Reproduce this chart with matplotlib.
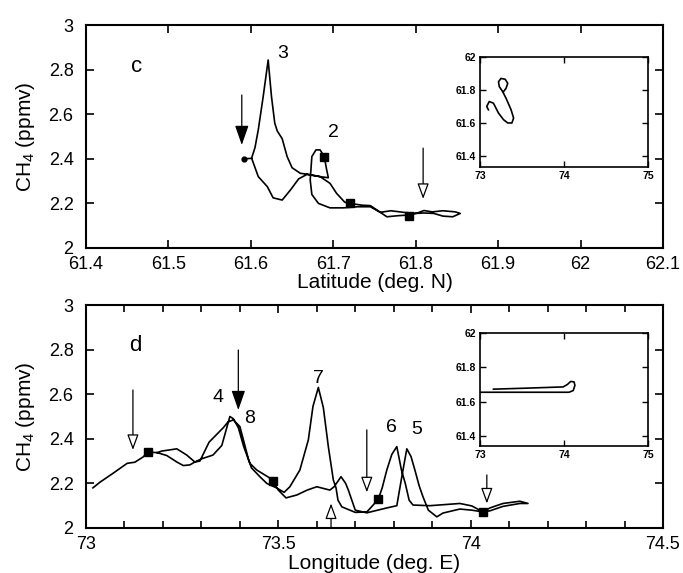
"""
CH4 along the flight track: latitude section (c) and longitude section (d),
each with a small lon/lat map of the track.
"""
import numpy as np
import matplotlib.pyplot as plt
from matplotlib.ticker import MultipleLocator, FormatStrFormatter

plt.rcParams['font.family'] = ['Liberation Sans', 'DejaVu Sans']
plt.rcParams['mathtext.fontset'] = 'custom'
plt.rcParams['mathtext.rm'] = 'Liberation Sans'

# ---- panel c: CH4 against latitude (track order)
lat_c = [61.592, 61.601, 61.609, 61.620, 61.627, 61.638, 61.648, 61.658, 61.668,
         61.684, 61.696, 61.704, 61.714, 61.720, 61.735, 61.745, 61.757, 61.765,
         61.779, 61.792, 61.802, 61.810, 61.820, 61.833, 61.848, 61.854, 61.845,
         61.833, 61.822, 61.810, 61.800, 61.785, 61.770, 61.757, 61.745, 61.730,
         61.712, 61.696, 61.682, 61.674, 61.672, 61.674, 61.679, 61.684, 61.689,
         61.692, 61.694, 61.684, 61.670, 61.660, 61.650, 61.644, 61.638, 61.632,
         61.629, 61.625, 61.621, 61.615, 61.609, 61.605, 61.601]
ch4_c = [2.400, 2.402, 2.320, 2.275, 2.225, 2.215, 2.260, 2.310, 2.330,
         2.320, 2.290, 2.245, 2.205, 2.200, 2.192, 2.190, 2.160, 2.140,
         2.145, 2.148, 2.157, 2.168, 2.162, 2.167, 2.162, 2.155, 2.140,
         2.143, 2.155, 2.157, 2.155, 2.160, 2.167, 2.160, 2.185, 2.185,
         2.180, 2.180, 2.200, 2.240, 2.305, 2.410, 2.440, 2.440, 2.410,
         2.350, 2.315, 2.320, 2.330, 2.335, 2.360, 2.410, 2.490, 2.525,
         2.560, 2.680, 2.843, 2.680, 2.530, 2.450, 2.404]
sq_lat_c = [61.689, 61.720, 61.792]
sq_ch4_c = [2.410, 2.200, 2.145]
# arrows: position, tail, tip, filled head
arr_x_c = [61.589, 61.809]
arr_tail_c = [2.686, 2.448]
arr_tip_c = [2.462, 2.220]
arr_fill_c = [True, False]
lab_c = ['3', '2']
lab_x_c = [61.638, 61.700]
lab_y_c = [2.874, 2.520]

# track map for c (lon, lat)
map_lon_c = [73.10, 73.08, 73.11, 73.16, 73.22, 73.28, 73.33, 73.38, 73.40, 73.37,
             73.31, 73.27, 73.23, 73.22, 73.25, 73.30, 73.33, 73.31, 73.28]
map_lat_c = [61.68, 61.70, 61.73, 61.72, 61.66, 61.62, 61.60, 61.60, 61.63, 61.68,
             61.75, 61.79, 61.82, 61.85, 61.87, 61.865, 61.84, 61.81, 61.79]

# ---- panel d: CH4 against longitude (track order)
lon_d = [73.018, 73.036, 73.070, 73.107, 73.127, 73.148, 73.161, 73.185, 73.197,
         73.236, 73.262, 73.283, 73.300, 73.330, 73.353, 73.366, 73.374, 73.383,
         73.396, 73.410, 73.426, 73.444, 73.478, 73.485, 73.500, 73.520, 73.548,
         73.575, 73.600, 73.634, 73.645, 73.663, 73.675, 73.682, 73.700, 73.730,
         73.782, 73.808, 73.821, 73.834, 73.845, 73.855, 73.866, 73.876, 73.890,
         73.912, 73.928, 73.972, 74.003, 74.032, 74.050, 74.084, 74.128, 74.149,
         74.128, 74.084, 74.050, 74.032, 74.003, 73.972, 73.894, 73.850, 73.840,
         73.830, 73.820, 73.808, 73.795, 73.782, 73.770, 73.760, 73.745, 73.730,
         73.700, 73.665, 73.655, 73.650, 73.643, 73.630, 73.617, 73.604, 73.590,
         73.578, 73.556, 73.530, 73.515, 73.495, 73.470, 73.452, 73.430, 73.422,
         73.410, 73.400, 73.383, 73.369, 73.357, 73.320, 73.296, 73.283, 73.270,
         73.253, 73.236, 73.210, 73.185]
ch4_d = [2.180, 2.205, 2.245, 2.290, 2.295, 2.318, 2.340, 2.338, 2.345,
         2.355, 2.327, 2.296, 2.310, 2.327, 2.370, 2.450, 2.500, 2.490,
         2.450, 2.365, 2.290, 2.260, 2.224, 2.210, 2.170, 2.135, 2.148,
         2.170, 2.185, 2.170, 2.185, 2.230, 2.200, 2.170, 2.080, 2.068,
         2.090, 2.100, 2.230, 2.355, 2.320, 2.260, 2.190, 2.140, 2.080,
         2.050, 2.067, 2.085, 2.080, 2.072, 2.077, 2.097, 2.110, 2.110,
         2.120, 2.110, 2.090, 2.072, 2.099, 2.110, 2.100, 2.103, 2.125,
         2.200, 2.260, 2.365, 2.330, 2.260, 2.180, 2.130, 2.100, 2.072,
         2.070, 2.095, 2.125, 2.180, 2.215, 2.365, 2.540, 2.630, 2.545,
         2.395, 2.260, 2.185, 2.160, 2.180, 2.200, 2.230, 2.270, 2.310,
         2.390, 2.455, 2.485, 2.475, 2.450, 2.385, 2.300, 2.296, 2.283,
         2.280, 2.296, 2.325, 2.338]
sq_lon_d = [73.161, 73.485, 73.760, 74.032]
sq_ch4_d = [2.340, 2.210, 2.130, 2.070]
arr_x_d = [73.122, 73.396, 73.730, 73.637, 74.042]
arr_tail_d = [2.619, 2.798, 2.440, 2.000, 2.238]
arr_tip_d = [2.350, 2.529, 2.160, 2.110, 2.110]
arr_fill_d = [False, True, False, False, False]
lab_d = ['4', '8', '7', '6', '5']
lab_x_d = [73.343, 73.426, 73.604, 73.795, 73.860]
lab_y_d = [2.583, 2.493, 2.670, 2.449, 2.440]

map_lon_d = [73.16, 73.50, 73.99, 74.04, 74.08, 74.12, 74.13, 74.11, 74.06, 73.50, 73.00]
map_lat_d = [61.673, 61.678, 61.686, 61.700, 61.718, 61.715, 61.695, 61.665, 61.655,
             61.655, 61.655]

W, H = 683, 573


def px_axes(fig, left, top, right, bottom):
    """add axes from pixel edges (origin top-left)"""
    return fig.add_axes([left / W, 1 - bottom / H, (right - left) / W, (bottom - top) / H])


def style_main(ax, xlim, xmajor, xminor=None):
    ax.set_xlim(*xlim)
    ax.set_ylim(2, 3)
    ax.xaxis.set_major_locator(MultipleLocator(xmajor))
    if xminor:
        ax.xaxis.set_minor_locator(MultipleLocator(xminor))
    ax.yaxis.set_major_locator(MultipleLocator(0.2))
    ax.xaxis.set_major_formatter(FormatStrFormatter('%g'))
    ax.yaxis.set_major_formatter(FormatStrFormatter('%g'))
    ax.tick_params(which='both', direction='in', top=True, right=True,
                   labelsize=13, width=1.2)
    ax.tick_params(axis='y', pad=9)
    ax.tick_params(axis='x', pad=6)
    ax.tick_params(which='major', length=6)
    ax.tick_params(which='minor', length=5)
    for s in ax.spines.values():
        s.set_linewidth(1.5)
    ax.set_ylabel('CH$_4$ (ppmv)', fontsize=15, labelpad=8)


def draw_arrows(ax, xs, tails, tips, fills):
    for x, t0, t1, f in zip(xs, tails, tips, fills):
        if f:
            style = '-|>,head_length=1.2,head_width=0.42'
        else:
            style = '-|>,head_length=0.95,head_width=0.35'
        ax.annotate('', xy=(x, t1), xytext=(x, t0),
                    arrowprops=dict(arrowstyle=style, fc='black' if f else 'white',
                                    ec='black', lw=0.9, shrinkA=0, shrinkB=0))


def style_inset(ax):
    ax.set_xlim(73, 75)
    ax.xaxis.set_major_locator(MultipleLocator(1))
    ax.yaxis.set_major_locator(MultipleLocator(0.2))
    ax.xaxis.set_major_formatter(FormatStrFormatter('%g'))
    ax.yaxis.set_major_formatter(FormatStrFormatter('%g'))
    ax.tick_params(direction='in', top=True, right=True, length=4, width=1,
                   labelsize=7.5, pad=3)
    for lab in ax.get_xticklabels() + ax.get_yticklabels():
        lab.set_fontweight('bold')
    for s in ax.spines.values():
        s.set_linewidth(1.2)


fig = plt.figure(figsize=(W / 100, H / 100), dpi=100)

# panel c
ax1 = px_axes(fig, 86, 25, 663, 248)
ax1.plot(lat_c, ch4_c, color='black', lw=1.2)
ax1.plot(lat_c[0], ch4_c[0], 'o', color='black', ms=3.5)
ax1.plot(sq_lat_c, sq_ch4_c, 's', color='black', ms=6)
draw_arrows(ax1, arr_x_c, arr_tail_c, arr_tip_c, arr_fill_c)
for s, x, y in zip(lab_c, lab_x_c, lab_y_c):
    ax1.text(x, y, s, fontsize=14, ha='center', va='center')
ax1.text(61.462, 2.816, 'c', fontsize=16, ha='center', va='center')
style_main(ax1, (61.4, 62.1), 0.1)
ax1.set_xlabel('Latitude (deg. N)', fontsize=15, labelpad=0)

ins1 = px_axes(fig, 480, 57, 648, 167)
ins1.plot(map_lon_c, map_lat_c, color='black', lw=1.2)
ins1.set_ylim(61.333, 62)
style_inset(ins1)

# panel d
ax2 = px_axes(fig, 86, 305, 663, 528)
ax2.plot(lon_d, ch4_d, color='black', lw=1.2)
ax2.plot(sq_lon_d, sq_ch4_d, 's', color='black', ms=6)
draw_arrows(ax2, arr_x_d, arr_tail_d, arr_tip_d, arr_fill_d)
for s, x, y in zip(lab_d, lab_x_d, lab_y_d):
    ax2.text(x, y, s, fontsize=14, ha='center', va='center')
ax2.text(73.127, 2.82, 'd', fontsize=16, ha='center', va='center')
style_main(ax2, (73, 74.5), 0.5, 0.1)
ax2.set_xlabel('Longitude (deg. E)', fontsize=15, labelpad=0.5)

ins2 = px_axes(fig, 480, 333, 648, 446)
ins2.plot(map_lon_d, map_lat_d, color='black', lw=1.2)
ins2.set_ylim(61.342, 62)
style_inset(ins2)

fig.savefig('out.png', dpi=100)
